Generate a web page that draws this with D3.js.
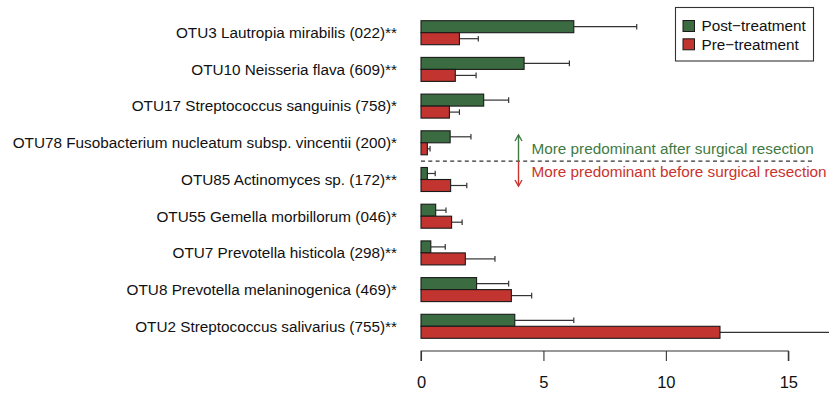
<!DOCTYPE html>
<html><head><meta charset="utf-8">
<script src="https://cdn.jsdelivr.net/npm/d3@7"></script>
<style>body{margin:0;background:#fff}svg{display:block;font-family:"Liberation Sans",Arial,Helvetica,sans-serif}</style>
</head><body><svg id="c" width="829" height="394"></svg>
<script>
const categories = [
  "OTU3 Lautropia mirabilis (022)**",
  "OTU10 Neisseria flava (609)**",
  "OTU17 Streptococcus sanguinis (758)*",
  "OTU78 Fusobacterium nucleatum subsp. vincentii (200)*",
  "OTU85 Actinomyces sp. (172)**",
  "OTU55 Gemella morbillorum (046)*",
  "OTU7 Prevotella histicola (298)**",
  "OTU8 Prevotella melaninogenica (469)*",
  "OTU2 Streptococcus salivarius (755)**"
];
const seriesNames = ["Post\u2212treatment", "Pre\u2212treatment"];
const postMean = [6.24, 4.21, 2.56, 1.19, 0.26, 0.60, 0.40, 2.27, 3.83];
const postErr  = [8.81, 6.06, 3.58, 2.04, 0.58, 1.02, 0.99, 3.58, 6.24];
const preMean  = [1.57, 1.40, 1.16, 0.26, 1.21, 1.25, 1.81, 3.69, 12.21];
const preErr   = [2.34, 2.25, 1.57, 0.37, 1.87, 1.68, 3.02, 4.52, 18.0];
const xTicks = [0, 5, 10, 15];
const annotations = ["More predominant after surgical resection", "More predominant before surgical resection"];

const colors = ["#3b6b40", "#c1342f"];
const textColors = ["#3f7a42", "#c9332e"];
const fs = 15.3;

const svg = d3.select("#c");
const x = d3.scaleLinear().domain([0, 15]).range([421, 788.3]);
const y = d3.scaleBand().domain(categories).range([14.35, 344.65]).paddingInner(0.346).paddingOuter(0.173);
const ys = d3.scaleBand().domain([0, 1]).range([0, y.bandwidth()]);

const rows = categories.map((c, i) => ({c, vals: [
  {s: 0, m: postMean[i], e: postErr[i]},
  {s: 1, m: preMean[i], e: preErr[i]}
]}));

// labels
svg.append("g").selectAll("text").data(categories).join("text")
  .attr("x", 397).attr("y", d => y(d) + y.bandwidth() / 2)
  .attr("dy", "0.35em").attr("text-anchor", "end")
  .attr("font-size", fs).attr("fill", "#111").text(d => d);

const g = svg.append("g").selectAll("g").data(rows).join("g")
  .attr("transform", d => `translate(0,${y(d.c)})`);

// error bars
g.selectAll("line.err").data(d => d.vals).join("line").attr("class", "err")
  .attr("x1", d => x(d.m)).attr("x2", d => x(d.e))
  .attr("y1", d => ys(d.s) + ys.bandwidth() / 2).attr("y2", d => ys(d.s) + ys.bandwidth() / 2)
  .attr("stroke", "#333").attr("stroke-width", 1.2);
g.selectAll("line.cap").data(d => d.vals).join("line").attr("class", "cap")
  .attr("x1", d => x(d.e)).attr("x2", d => x(d.e))
  .attr("y1", d => ys(d.s) + ys.bandwidth() / 2 - 2.8).attr("y2", d => ys(d.s) + ys.bandwidth() / 2 + 2.8)
  .attr("stroke", "#333").attr("stroke-width", 1.2);

// bars
g.selectAll("rect").data(d => d.vals).join("rect")
  .attr("x", x(0)).attr("y", d => ys(d.s))
  .attr("width", d => x(d.m) - x(0)).attr("height", ys.bandwidth())
  .attr("fill", d => colors[d.s]).attr("stroke", "#1a1a1a").attr("stroke-width", 1.1);

// axis
const axis = svg.append("g").attr("transform", "translate(0,351)")
  .call(d3.axisBottom(x).tickValues(xTicks).tickSize(10).tickPadding(15).tickFormat(d3.format("d")));
axis.select(".domain").attr("d", `M${x(0)},10V0H${x(15)}V10`).attr("stroke", "#333").attr("stroke-width", 1.1);
axis.selectAll(".tick line").attr("stroke", "#333").attr("stroke-width", 1.1);
axis.selectAll(".tick text").attr("font-size", 16.5).attr("fill", "#111")
  .attr("font-family", '"Liberation Sans",Arial,Helvetica,sans-serif');

// legend
const lg = svg.append("g");
lg.append("rect").attr("x", 675.5).attr("y", 7.5).attr("width", 138).attr("height", 53.5)
  .attr("fill", "#fff").attr("stroke", "#333").attr("stroke-width", 1.1);
seriesNames.forEach((n, i) => {
  lg.append("rect").attr("x", 683).attr("y", 20.5 + i * 18.3).attr("width", 11.5).attr("height", 11)
    .attr("fill", colors[i]).attr("stroke", "#1a1a1a").attr("stroke-width", 1);
  lg.append("text").attr("x", 701.5).attr("y", 26 + i * 18.3).attr("dy", "0.35em")
    .attr("font-size", fs).attr("fill", "#111").text(n);
});

// annotation
const midY = y(categories[3]) + y.bandwidth() + (y.step() - y.bandwidth()) / 2;
svg.append("line").attr("x1", x(0)).attr("x2", 813).attr("y1", midY).attr("y2", midY)
  .attr("stroke", "#333").attr("stroke-width", 1.1).attr("stroke-dasharray", "4,3.3");
const ax = 518.5;
svg.append("line").attr("x1", ax).attr("x2", ax).attr("y1", midY).attr("y2", 135)
  .attr("stroke", textColors[0]).attr("stroke-width", 1.4);
svg.append("path").attr("d", `M${ax - 3.5},${141}L${ax},${135}L${ax + 3.5},${141}`)
  .attr("fill", "none").attr("stroke", textColors[0]).attr("stroke-width", 1.4);
svg.append("line").attr("x1", ax).attr("x2", ax).attr("y1", midY).attr("y2", 186)
  .attr("stroke", textColors[1]).attr("stroke-width", 1.4);
svg.append("path").attr("d", `M${ax - 3.5},${180}L${ax},${186}L${ax + 3.5},${180}`)
  .attr("fill", "none").attr("stroke", textColors[1]).attr("stroke-width", 1.4);
annotations.forEach((t, i) => {
  svg.append("text").attr("x", 531.5).attr("y", i === 0 ? 148.3 : 171.7).attr("dy", "0.35em")
    .attr("font-size", fs).attr("fill", textColors[i]).text(t);
});
</script></body></html>
